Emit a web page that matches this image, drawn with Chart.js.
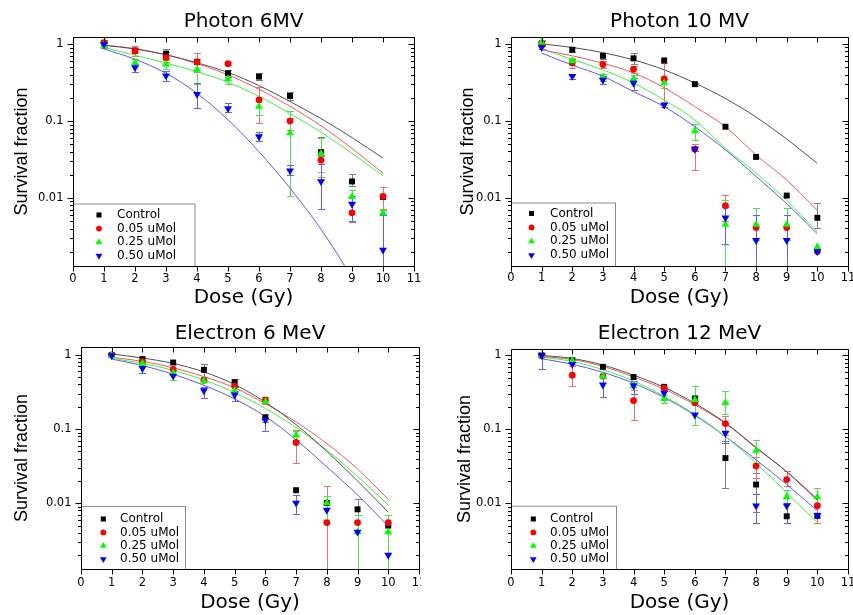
<!DOCTYPE html>
<html>
<head>
<meta charset="utf-8">
<script src="https://cdn.jsdelivr.net/npm/chart.js@4.4.1/dist/chart.umd.min.js"></script>
<style>
  body { margin: 0; background: #fff; }
  #wrap { position: relative; width: 853px; height: 615px; overflow: hidden; }
  canvas { position: absolute; }
</style>
</head>
<body>
<div id="wrap">
  <canvas id="c1"></canvas>
  <canvas id="c2"></canvas>
  <canvas id="c3"></canvas>
  <canvas id="c4"></canvas>
</div>
<script>
/* ---------- Data ---------- */
const doses = [1, 2, 3, 4, 5, 6, 7, 8, 9, 10];
const seriesLabels = ['Control', '0.05 uMol', '0.25 uMol', '0.50 uMol'];
const xTicks = [0, 1, 2, 3, 4, 5, 6, 7, 8, 9, 10, 11];
const yTicks = [0.002, 0.003, 0.004, 0.005, 0.006, 0.007, 0.008, 0.009,
  0.01, 0.02, 0.03, 0.04, 0.05, 0.06, 0.07, 0.08, 0.09,
  0.1, 0.2, 0.3, 0.4, 0.5, 0.6, 0.7, 0.8, 0.9, 1];
const yLabels = [0.01, 0.1, 1];

// Photon 6MV  (rows: Control, 0.05, 0.25, 0.50 uMol)
const ph6Sf = [
  [1.02, 0.83, 0.755, 0.59, 0.42, 0.38, 0.213, 0.0395, 0.0164, 0.0103],
  [1.05, 0.82, 0.67, 0.59, 0.56, 0.189, 0.1, 0.031, 0.0064, 0.0105],
  [0.98, 0.58, 0.55, 0.47, 0.355, 0.155, 0.07, 0.0378, 0.0104, 0.0064],
  [1.0, 0.5, 0.39, 0.224, 0.146, 0.063, 0.0226, 0.0164, 0.0083, 0.0021]
];
const ph6Lo = [
  [0.9, 0.76, 0.66, 0.55, 0.38, 0.34, 0.19, 0.035, 0.0142, null],
  [0.96, 0.7, 0.58, 0.43, 0.54, 0.094, 0.077, 0.019, 0.0048, 0.0071],
  [0.92, 0.52, 0.48, 0.3, 0.3, 0.12, 0.0105, 0.022, 0.0085, 0.006],
  [0.95, 0.44, 0.33, 0.148, 0.13, 0.055, 0.02, 0.0072, 0.005, 0.0005]
];
const ph6Hi = [
  [1.13, 0.9, 0.87, 0.64, 0.46, 0.42, 0.24, 0.063, 0.0206, null],
  [1.12, 0.96, 0.8, 0.77, 0.58, 0.28, 0.11, 0.036, 0.0085, 0.014],
  [1.04, 0.64, 0.62, 0.6, 0.42, 0.2, 0.134, 0.06, 0.0128, 0.0069],
  [1.05, 0.55, 0.45, 0.31, 0.17, 0.073, 0.027, 0.028, 0.0105, 0.006]
];
const ph6Fit = [
  [0.97, 0.87, 0.73, 0.575, 0.43, 0.29, 0.18, 0.108, 0.061, 0.033],
  [0.98, 0.88, 0.73, 0.56, 0.4, 0.26, 0.156, 0.087, 0.044, 0.021],
  [0.91, 0.72, 0.57, 0.44, 0.32, 0.21, 0.125, 0.072, 0.038, 0.0195],
  [0.87, 0.64, 0.42, 0.23, 0.104, 0.04, 0.0134, 0.0039, 0.0009, 0.00016]
];

// Photon 10 MV
const ph10Sf = [
  [1.0, 0.84, 0.7, 0.65, 0.61, 0.3, 0.084, 0.034, 0.0107, 0.0055],
  [1.02, 0.57, 0.54, 0.47, 0.35, 0.043, 0.0079, 0.0041, 0.0041, 0.002],
  [1.05, 0.6, 0.37, 0.35, 0.31, 0.074, 0.0045, 0.0045, 0.0045, 0.0023],
  [0.9, 0.38, 0.34, 0.31, 0.16, 0.043, 0.0055, 0.0028, 0.0028, 0.002]
];
const ph10Lo = [
  [null, 0.78, 0.64, 0.55, null, 0.285, null, null, null, 0.004],
  [0.95, 0.48, 0.48, 0.42, 0.177, 0.023, 0.005, null, null, null],
  [0.97, 0.54, 0.33, 0.3, 0.27, 0.056, 0.0005, 0.0028, 0.0028, null],
  [0.85, 0.35, 0.3, 0.25, 0.15, 0.04, 0.0025, 0.0005, 0.0005, null]
];
const ph10Hi = [
  [null, 0.9, 0.77, 0.76, null, 0.315, null, null, null, 0.0086],
  [1.1, 0.64, 0.6, 0.52, 0.56, 0.05, 0.011, null, null, null],
  [1.12, 0.66, 0.41, 0.39, 0.35, 0.09, 0.0093, 0.0074, 0.0074, null],
  [0.95, 0.41, 0.38, 0.36, 0.17, 0.046, 0.0075, 0.006, 0.006, null]
];
const ph10Fit = [
  [1.0, 0.9, 0.77, 0.62, 0.46, 0.31, 0.195, 0.112, 0.058, 0.028],
  [0.84, 0.7, 0.56, 0.42, 0.27, 0.153, 0.084, 0.036, 0.017, 0.0069],
  [0.86, 0.63, 0.46, 0.31, 0.187, 0.103, 0.044, 0.021, 0.0093, 0.0036],
  [0.76, 0.53, 0.38, 0.24, 0.153, 0.084, 0.042, 0.019, 0.0084, 0.0034]
];

// Electron 6 MeV
const el6Sf = [
  [1.0, 0.88, 0.79, 0.63, 0.43, 0.143, 0.015, 0.0101, 0.0083, 0.005],
  [1.0, 0.81, 0.64, 0.455, 0.38, 0.247, 0.066, 0.0055, 0.0055, 0.0055],
  [0.98, 0.77, 0.57, 0.445, 0.33, 0.235, 0.083, 0.0101, 0.0041, 0.0041],
  [0.98, 0.66, 0.52, 0.33, 0.29, 0.133, 0.0101, 0.0081, 0.0041, 0.002]
];
const el6Lo = [
  [null, null, null, 0.51, 0.37, 0.126, null, null, 0.007, null],
  [null, null, null, null, null, 0.22, 0.035, 0.0005, null, null],
  [null, null, 0.46, null, null, null, 0.072, 0.0055, 0.0005, 0.0005],
  [null, 0.57, null, 0.26, 0.24, 0.093, 0.0071, null, null, null]
];
const el6Hi = [
  [null, null, null, 0.75, 0.48, 0.16, null, null, 0.0113, null],
  [null, null, null, null, null, 0.275, 0.097, 0.017, null, null],
  [null, null, 0.63, null, null, null, 0.095, 0.0127, 0.0069, 0.0069],
  [null, 0.77, null, 0.37, 0.33, 0.16, 0.013, null, null, null]
];
const el6Fit = [
  [1.03, 0.91, 0.77, 0.59, 0.4, 0.23, 0.115, 0.05, 0.02, 0.0076],
  [0.93, 0.82, 0.67, 0.51, 0.36, 0.22, 0.125, 0.064, 0.029, 0.0113],
  [0.9, 0.77, 0.62, 0.46, 0.31, 0.19, 0.105, 0.052, 0.023, 0.0095],
  [0.88, 0.72, 0.55, 0.39, 0.255, 0.148, 0.072, 0.031, 0.013, 0.0049]
];

// Electron 12 MeV
const el12Sf = [
  [1.0, 0.86, 0.7, 0.51, 0.376, 0.262, 0.041, 0.018, 0.0067, 0.0068],
  [1.0, 0.54, 0.525, 0.245, 0.36, 0.23, 0.12, 0.032, 0.021, 0.0093],
  [1.0, 0.85, 0.52, 0.385, 0.26, 0.25, 0.23, 0.052, 0.0122, 0.0122],
  [1.0, 0.76, 0.4, 0.39, 0.31, 0.157, 0.089, 0.0093, 0.0093, 0.0069]
];
const el12Lo = [
  [null, null, null, null, null, 0.24, 0.0162, 0.0077, null, null],
  [null, 0.38, null, 0.134, null, null, 0.085, 0.022, 0.017, 0.0055],
  [null, null, null, null, 0.23, 0.115, 0.16, 0.035, 0.01, 0.0095],
  [0.66, null, 0.27, 0.3, null, null, 0.065, 0.0055, 0.0055, null]
];
const el12Hi = [
  [null, null, null, null, null, 0.28, 0.07, 0.0255, null, null],
  [null, 0.72, null, 0.34, null, null, 0.15, 0.043, 0.027, 0.012],
  [null, null, null, null, 0.29, 0.38, 0.33, 0.072, 0.015, 0.0163],
  [1.05, null, 0.5, 0.45, null, null, 0.12, 0.0136, 0.01, null]
];
const el12Fit = [
  [1.0, 0.91, 0.74, 0.54, 0.37, 0.225, 0.123, 0.057, 0.0268, 0.011],
  [0.97, 0.88, 0.71, 0.51, 0.35, 0.215, 0.12, 0.056, 0.027, 0.0115],
  [0.95, 0.83, 0.64, 0.45, 0.28, 0.16, 0.08, 0.035, 0.014, 0.0055],
  [0.9, 0.76, 0.59, 0.42, 0.27, 0.155, 0.08, 0.039, 0.018, 0.008]
];

/* ---------- Styles ---------- */
const markerColors = ['#000000', '#ff0000', '#00ff00', '#0000ff'];
const errorColors = ['#808080', '#f07070', '#50e050', '#6060f0'];
const fitColors = ['#505050', '#f05a5a', '#40f040', '#5a5af0'];
const markerStyles = [
  { pointStyle: 'rect', radius: 4.2, rotation: 0 },
  { pointStyle: 'circle', radius: 3.4, rotation: 0 },
  { pointStyle: 'triangle', radius: 4.6, rotation: 0 },
  { pointStyle: 'triangle', radius: 4.6, rotation: 180 }
];

Chart.defaults.font.family = "'DejaVu Sans', sans-serif";
Chart.defaults.color = '#000';

const isDecade = v => Math.abs(Math.log10(v) - Math.round(Math.log10(v))) < 1e-6;

/* ---------- Plugins ---------- */
const errorBars = {
  id: 'errorBars',
  beforeDatasetsDraw(chart) {
    const { ctx, chartArea: a, scales: { x, y } } = chart;
    ctx.save();
    ctx.beginPath();
    ctx.rect(a.left, a.top, a.right - a.left, a.bottom - a.top);
    ctx.clip();
    ctx.lineWidth = 1;
    chart.data.datasets.forEach(ds => {
      if (!ds.errLo) return;
      ctx.strokeStyle = ds.errColor;
      ds.data.forEach((pt, i) => {
        const lo = ds.errLo[i], hi = ds.errHi[i];
        if (lo == null || hi == null) return;
        const px = Math.round(x.getPixelForValue(pt.x)) + 0.5;
        const y1 = Math.round(y.getPixelForValue(lo)) + 0.5;
        const y2 = Math.round(y.getPixelForValue(hi)) + 0.5;
        ctx.beginPath();
        ctx.moveTo(px, y1); ctx.lineTo(px, y2);
        ctx.moveTo(px - 3.5, y1); ctx.lineTo(px + 3.5, y1);
        ctx.moveTo(px - 3.5, y2); ctx.lineTo(px + 3.5, y2);
        ctx.stroke();
      });
    });
    ctx.restore();
  }
};

const legendBox = {
  id: 'legendBox',
  afterDatasetsDraw(chart, args, opts) {
    const { ctx, chartArea: a } = chart;
    const lg = opts.cfg;
    ctx.save();
    ctx.fillStyle = '#fff';
    ctx.fillRect(a.left, lg.top, lg.right - a.left, a.bottom - lg.top);
    ctx.strokeStyle = '#8c8c8c';
    ctx.lineWidth = 1;
    ctx.strokeRect(a.left + 0.5, lg.top + 0.5, lg.right - a.left, a.bottom - lg.top);
    ctx.font = "12px 'DejaVu Sans'";
    ctx.textBaseline = 'middle';
    seriesLabels.forEach((label, i) => {
      const yy = lg.y0 + i * lg.dy;
      const m = markerStyles[i];
      ctx.fillStyle = markerColors[i];
      Chart.helpers.drawPoint(ctx, {
        pointStyle: m.pointStyle, radius: m.radius * 0.85, rotation: m.rotation, borderWidth: 0
      }, lg.mx, yy);
      ctx.fillStyle = '#000';
      ctx.fillText(label, lg.tx, yy);
    });
    ctx.restore();
  }
};

const frameTicks = {
  id: 'frameTicks',
  afterDraw(chart) {
    const { ctx, chartArea: a, scales: { x, y } } = chart;
    ctx.save();
    ctx.strokeStyle = '#000';
    ctx.lineWidth = 1;
    ctx.beginPath();
    ctx.rect(a.left + 0.5, a.top + 0.5, a.right - a.left, a.bottom - a.top);
    y.ticks.forEach(t => {
      const py = Math.round(y.getPixelForValue(t.value)) + 0.5;
      if (py < a.top || py > a.bottom + 1) return;
      const len = isDecade(t.value) ? 6 : 3.5;
      ctx.moveTo(a.left + 0.5 - len, py); ctx.lineTo(a.left + 0.5, py);
      ctx.moveTo(a.right + 0.5, py); ctx.lineTo(a.right + 0.5 - len, py);
    });
    x.ticks.forEach(t => {
      const px = Math.round(x.getPixelForValue(t.value)) + 0.5;
      ctx.moveTo(px, a.bottom + 0.5); ctx.lineTo(px, a.bottom + 5.5);
      ctx.moveTo(px, a.top + 0.5); ctx.lineTo(px, a.top + 5.5);
    });
    ctx.stroke();
    ctx.restore();
  }
};

/* ---------- Panels ---------- */
const panels = [
  { id: 'c1', title: 'Photon 6MV', sf: ph6Sf, lo: ph6Lo, hi: ph6Hi, fit: ph6Fit,
    box: [0, 0, 426, 310], area: [73, 37, 414, 266], yMax: 1.245,
    titleY: 21.7, yTitleX: 22, xTickPad: 5.8, xTitlePad: 0.7,
    legend: { right: 194.5, top: 203.5, mx: 99, tx: 117, y0: 215, dy: 13.6 } },
  { id: 'c2', title: 'Photon 10 MV', sf: ph10Sf, lo: ph10Lo, hi: ph10Hi, fit: ph10Fit,
    box: [426, 0, 427, 310], area: [511, 37, 848, 266], yMax: 1.23,
    titleY: 22, yTitleX: 468, xTickPad: 5.4, xTitlePad: 0.7,
    legend: { right: 615, top: 202.5, mx: 531.5, tx: 550, y0: 213.5, dy: 13.9 } },
  { id: 'c3', title: 'Electron 6 MeV', sf: el6Sf, lo: el6Lo, hi: el6Hi, fit: el6Fit,
    box: [0, 310, 421, 305], area: [81, 347, 419, 569], yMax: 1.28,
    titleY: 334, yTitleX: 22, xTickPad: 7.4, xTitlePad: 0,
    legend: { right: 185, top: 506, mx: 103.3, tx: 120, y0: 519, dy: 13.4 } },
  { id: 'c4', title: 'Electron 12 MeV', sf: el12Sf, lo: el12Lo, hi: el12Hi, fit: el12Fit,
    box: [426, 310, 427, 305], area: [511, 349, 848, 569], yMax: 1.22,
    titleY: 333.3, yTitleX: 465, xTickPad: 7.4, xTitlePad: 0,
    legend: { right: 616, top: 505.7, mx: 533.3, tx: 550, y0: 519, dy: 13.4 } }
];

function makePanel(p) {
  const [cx, cy, cw, ch] = p.box;
  const [L, T, R, B] = p.area;
  const canvas = document.getElementById(p.id);
  canvas.width = cw;
  canvas.height = ch;
  canvas.style.left = cx + 'px';
  canvas.style.top = cy + 'px';

  // local coords inside the canvas
  const titlePadTop = p.titleY - cy - 12;
  const titlePadBottom = (T - cy) - 24 - titlePadTop;
  const legendCfg = {
    right: p.legend.right - cx, top: p.legend.top - cy,
    mx: p.legend.mx - cx, tx: p.legend.tx - cx,
    y0: p.legend.y0 - cy, dy: p.legend.dy
  };

  const fits = p.fit.map((row, i) => ({
    data: doses.map((d, j) => ({ x: d, y: row[j] })),
    borderColor: fitColors[i],
    borderWidth: 1,
    pointRadius: 0,
    cubicInterpolationMode: 'monotone',
    order: 20 + i
  }));
  const points = p.sf.map((row, i) => ({
    label: seriesLabels[i],
    data: doses.map((d, j) => ({ x: d, y: row[j] })),
    showLine: false,
    pointStyle: markerStyles[i].pointStyle,
    pointRadius: markerStyles[i].radius,
    pointRotation: markerStyles[i].rotation,
    pointBackgroundColor: markerColors[i],
    pointBorderWidth: 0,
    errLo: p.lo[i],
    errHi: p.hi[i],
    errColor: errorColors[i],
    order: 4 - i
  }));

  return new Chart(canvas, {
    type: 'line',
    data: { datasets: [...fits, ...points] },
    options: {
      responsive: false,
      animation: false,
      events: [],
      layout: { autoPadding: false, padding: { left: 0, top: 0, bottom: 0, right: cx + cw - R } },
      plugins: {
        legend: { display: false },
        tooltip: { enabled: false },
        title: {
          display: true, text: p.title, fullSize: false, color: '#000',
          font: { family: "'DejaVu Sans'", size: 20, weight: 'normal' },
          padding: { top: titlePadTop, bottom: titlePadBottom }
        },
        legendBox: { cfg: legendCfg }
      },
      scales: {
        x: {
          type: 'linear', min: 0, max: 11,
          afterBuildTicks: s => { s.ticks = xTicks.map(v => ({ value: v })); },
          ticks: { autoSkip: false, maxRotation: 0, padding: p.xTickPad, color: '#000',
            font: { family: "'DejaVu Sans'", size: 11.5 } },
          grid: { display: false, drawTicks: false },
          border: { display: false },
          title: { display: true, text: 'Dose (Gy)', color: '#000',
            font: { family: "'DejaVu Sans'", size: 20 },
            padding: { top: 0, bottom: p.xTitlePad } },
          afterFit: s => {
            s.height = cy + ch - B;
            s.paddingLeft = 0;
            s.paddingRight = 0;
          }
        },
        y: {
          type: 'logarithmic', min: 0.0013, max: p.yMax,
          afterBuildTicks: s => { s.ticks = yTicks.map(v => ({ value: v })); },
          ticks: { autoSkip: false, padding: 9.5, color: '#000',
            font: { family: "'DejaVu Sans'", size: 11.5 },
            callback: v => yLabels.includes(v) ? String(v) : '' },
          grid: { display: false, drawTicks: false },
          border: { display: false },
          title: { display: true, text: 'Survival fraction', color: '#000',
            font: { family: "'Liberation Sans', Arial, sans-serif", size: 18 },
            padding: { top: p.yTitleX - cx - 10.8, bottom: 0 } },
          afterFit: s => {
            s.width = L - cx;
            s.paddingTop = 0;
            s.paddingBottom = 0;
          }
        }
      }
    },
    plugins: [errorBars, legendBox, frameTicks]
  });
}

panels.forEach(makePanel);
</script>
</body>
</html>
